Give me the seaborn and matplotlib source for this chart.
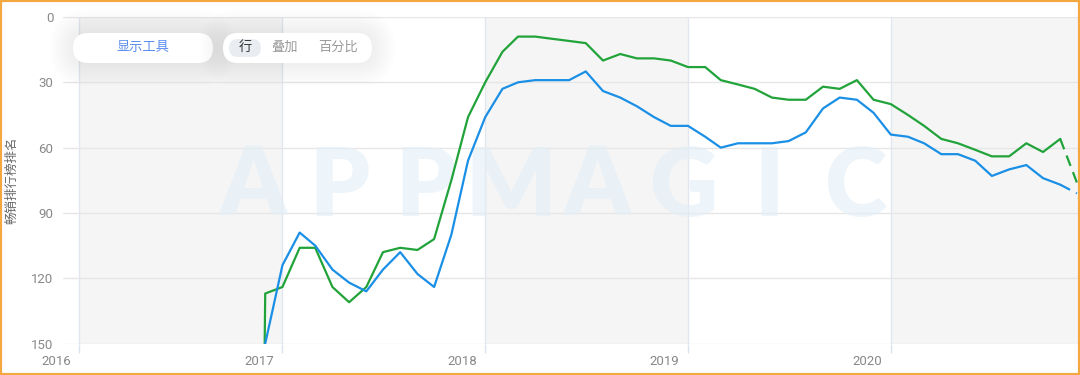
import numpy as np
import pandas as pd
import matplotlib
matplotlib.use("Agg")
import matplotlib.pyplot as plt
import seaborn as sns
from matplotlib.patches import FancyBboxPatch, Rectangle
from matplotlib.transforms import ScaledTranslation

# monthly chart ranks, Dec 2016 .. Dec 2020 (last month is the dashed estimate)
months = pd.date_range("2016-12-01", "2020-12-01", freq="MS")
green_start_date = pd.Timestamp("2016-11-30")
green_start_rank = 150
green_rank = [
    127,
    124, 106, 106, 124, 131, 124, 108, 106, 107, 102, 75, 46,
    30, 16, 9, 9, 10, 11, 12, 20, 17, 19, 19, 20,
    23, 23, 29, 31, 33, 37, 38, 38, 32, 33, 29, 38,
    40, 45, 50, 56, 58, 61, 64, 64, 58, 62, 56, 76,
]
blue_rank = [
    150,
    114, 99, 105, 116, 122, 126, 116, 108, 118, 124, 100, 66,
    46, 33, 30, 29, 29, 29, 25, 34, 37, 41, 46, 50,
    50, 55, 60, 58, 58, 58, 57, 53, 42, 37, 38, 44,
    54, 55, 58, 63, 63, 66, 73, 70, 68, 74, 77, 81,
]
year_ticks = pd.to_datetime(["2016-01-01", "2017-01-01", "2018-01-01", "2019-01-01", "2020-01-01"])
year_labels = ["2016", "2017", "2018", "2019", "2020"]
shaded_years = [("2016-01-01", "2017-01-01"), ("2018-01-01", "2019-01-01"), ("2020-01-01", "2021-01-01")]
rank_ticks = [0, 30, 60, 90, 120, 150]

GREEN = "#21a33a"
BLUE = "#1a8fe6"

sns.set_theme(style="white")
plt.rcParams["font.family"] = ["Roboto", "Noto Sans CJK SC", "DejaVu Sans"]

fig = plt.figure(figsize=(10.8, 3.75), dpi=100)
ax = fig.add_axes([63 / 1080, 31.4 / 375, 1015 / 1080, 326.6 / 375])

for a, b in shaded_years:
    ax.axvspan(pd.Timestamp(a), pd.Timestamp(b), color="#f5f5f5", zorder=0, lw=0)

# watermark
for i, ch in enumerate("APPMAGIC"):
    ax.text((253 + i * 86 - 63) / 1015, 0.475, ch, transform=ax.transAxes,
            ha="center", va="center", fontsize=68, family="Lato",
            fontweight="heavy", color="#e3eff7", alpha=0.6, zorder=0.7)

green = pd.DataFrame({"date": [green_start_date] + list(months),
                      "rank": [green_start_rank] + green_rank})
blue = pd.DataFrame({"date": months, "rank": blue_rank})

for df, col in [(green, GREEN), (blue, BLUE)]:
    sns.lineplot(data=df.iloc[:-1], x="date", y="rank", color=col, lw=1.6,
                 ax=ax, legend=False, zorder=3)
    sns.lineplot(data=df.iloc[-2:], x="date", y="rank", color=col, lw=1.6,
                 ax=ax, legend=False, zorder=3, linestyle=(0, (5, 3)))

ax.set_xlim(pd.Timestamp("2015-12-03"), pd.Timestamp("2020-12-03"))
ax.set_ylim(150, 0)
ax.set_yticks(rank_ticks)
ax.set_xticks(year_ticks)
ax.set_xticklabels(year_labels)
ax.set_xlabel("")
ax.set_ylabel("")
ax.set_axisbelow(True)
ax.yaxis.grid(True, color="#e6e6e6", lw=1)
ax.xaxis.grid(True, color="#e2e6ee", lw=1)
for s in ax.spines.values():
    s.set_visible(False)
ax.tick_params(axis="y", length=0, pad=7, labelsize=9.5, labelcolor="#888888")
ax.tick_params(axis="x", bottom=True, length=6.5, width=1, color="#dde3ee",
               pad=1.5, labelsize=9.5, labelcolor="#888888")
for lbl in ax.get_xticklabels():
    lbl.set_ha("right")
    lbl.set_transform(lbl.get_transform() + ScaledTranslation(-6 / 72, 0, fig.dpi_scale_trans))

fig.text(12 / 1080, (375 - 180) / 375, "畅销排行榜排名", rotation=90, ha="center",
         va="center", fontsize=9, color="#666666")

# toolbar pills (pixel -> inch)
def pill(x0, y0, x1, y1, color, shadow=False, r=0.15):
    tr = fig.dpi_scale_trans
    if shadow:
        for k in range(8):
            p = 0.02 + k * 0.03
            fig.add_artist(FancyBboxPatch((x0 / 100, (375 - y1) / 100), (x1 - x0) / 100,
                                          (y1 - y0) / 100,
                                          boxstyle=f"round,pad={p},rounding_size={r + p}",
                                          transform=tr, color="#000000", alpha=0.008, lw=0))
    fig.add_artist(FancyBboxPatch((x0 / 100, (375 - y1) / 100), (x1 - x0) / 100, (y1 - y0) / 100,
                                  boxstyle=f"round,pad=0,rounding_size={r}",
                                  transform=tr, color=color, lw=0))


def label(x, y, s, color):
    fig.text(x / 100, (375 - y) / 100, s, transform=fig.dpi_scale_trans, ha="center",
             va="center", fontsize=9.5, color=color)


pill(73, 33, 213, 63, "white", shadow=True)
pill(223, 33, 372, 63, "white", shadow=True)
pill(229, 39, 261, 57, "#e9edf2", r=0.09)
label(143, 47.5, "显示工具", "#5b8ded")
label(245, 47.5, "行", "#333333")
label(285, 47.5, "叠加", "#999999")
label(338, 47.5, "百分比", "#999999")

fig.add_artist(Rectangle((0, 0), 1, 1, transform=fig.transFigure, fill=False,
                         edgecolor="#f5a742", lw=3))

fig.savefig("out.png", dpi=100)
